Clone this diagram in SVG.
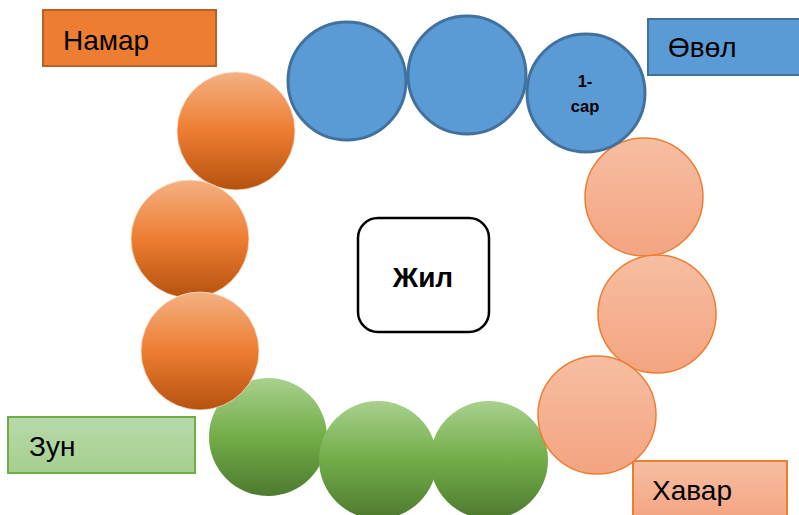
<svg xmlns="http://www.w3.org/2000/svg" width="799" height="515" viewBox="0 0 799 515">
<defs>
<linearGradient id="gOr" x1="0" y1="0" x2="0" y2="1">
<stop offset="0" stop-color="#F4B183"/><stop offset="0.5" stop-color="#ED7D31"/><stop offset="1" stop-color="#B5520F"/>
</linearGradient>
<linearGradient id="gGr" x1="0" y1="0" x2="0" y2="1">
<stop offset="0" stop-color="#A9D18E"/><stop offset="0.5" stop-color="#72AD48"/><stop offset="1" stop-color="#4E7A2F"/>
</linearGradient>
<linearGradient id="gSa" x1="0" y1="0" x2="0" y2="1">
<stop offset="0" stop-color="#F7BEA2"/><stop offset="1" stop-color="#F4A481"/>
</linearGradient>
<linearGradient id="gZun" x1="0" y1="0" x2="0" y2="1">
<stop offset="0" stop-color="#B8D9AB"/><stop offset="1" stop-color="#A6CF8E"/>
</linearGradient>
</defs>
<style>
.lbl{font-family:"Liberation Sans",Arial,sans-serif;font-size:28px;fill:#000}
.blue{fill:#5B9BD5;stroke:#41719C;stroke-width:3}
.sal{fill:url(#gSa);stroke:#ED7D31;stroke-width:1.5}
.org{fill:url(#gOr);stroke:#FBE3D3;stroke-width:0.75}
.grn{fill:url(#gGr);stroke:none}
.small{font-family:"Liberation Sans",Arial,sans-serif;font-size:16.5px;font-weight:bold;text-anchor:middle}
</style>
<g id="connectors"/>
<g id="label-namar"><rect x="43" y="10" width="173" height="56" fill="#ED7D31" stroke="#B7602A" stroke-width="2"/><text class="lbl" x="63" y="50">Намар</text></g>
<g id="label-ovol"><rect x="648" y="19" width="152" height="56" fill="#5B9BD5" stroke="#41719C" stroke-width="2"/><text class="lbl" x="668" y="57">Өвөл</text></g>
<g id="label-zun"><rect x="8" y="417" width="187" height="56" fill="url(#gZun)" stroke="#70AD47" stroke-width="2"/><text class="lbl" x="29" y="456">Зун</text></g>
<g id="label-havar"><rect x="633" y="461" width="154" height="60" fill="url(#gSa)" stroke="#ED7D31" stroke-width="2"/><text class="lbl" x="652" y="500">Хавар</text></g>
<g id="center-jil"><rect x="358" y="218" width="131" height="114" rx="20" fill="#fff" stroke="#000" stroke-width="2.5"/><text x="423" y="287" text-anchor="middle" font-family="Liberation Sans,Arial,sans-serif" font-size="28" font-weight="bold">Жил</text></g>
<g id="green-1"><circle class="grn" cx="268" cy="437" r="59"/></g>
<g id="green-2"><circle class="grn" cx="378" cy="460" r="59"/></g>
<g id="green-3"><circle class="grn" cx="489" cy="460" r="59"/></g>
<g id="salmon-1"><circle class="sal" cx="644" cy="197" r="59"/></g>
<g id="salmon-2"><circle class="sal" cx="657" cy="314" r="59"/></g>
<g id="salmon-3"><circle class="sal" cx="597" cy="415" r="59"/></g>
<g id="blue-1"><circle class="blue" cx="347" cy="81" r="59"/></g>
<g id="blue-2"><circle class="blue" cx="467" cy="75" r="59"/></g>
<g id="blue-3"><circle class="blue" cx="586" cy="93" r="59"/><text class="small" x="585" y="87">1-</text><text class="small" x="585" y="112">сар</text></g>
<g id="orange-1"><circle class="org" cx="236" cy="131" r="59"/></g>
<g id="orange-2"><circle class="org" cx="190" cy="239" r="59"/></g>
<g id="orange-3"><circle class="org" cx="200" cy="351" r="59"/></g>
</svg>
